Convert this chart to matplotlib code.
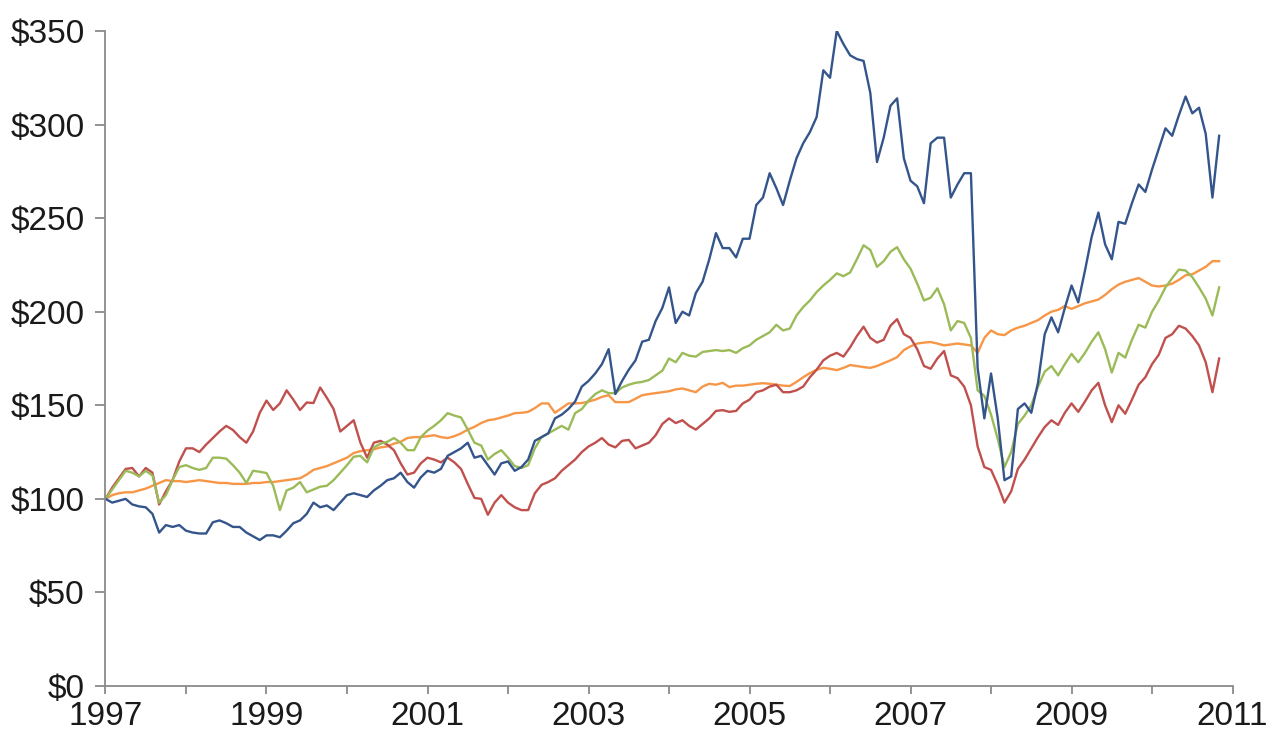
"""
Growth of $100, four series, monthly 1997-2010.
"""
import numpy as np
import matplotlib
matplotlib.use('Agg')
import matplotlib.pyplot as plt

START_YEAR = 1997

# Monthly values (Jan 1997 .. Nov 2010).
blue = [
    100, 98, 99, 100, 97, 96, 95.5, 92, 82, 86, 85, 86,
    83, 82, 81.5, 81.5, 87.5, 88.5, 87, 85, 85, 82, 80, 78,
    80.5, 80.5, 79.5, 83, 87, 88.5, 92, 98, 95.5, 96.5, 94, 98,
    102, 103, 102, 101, 104.5, 107, 110, 111, 114, 109, 106, 111.5,
    115, 114, 116, 123, 125, 127, 130, 122, 123, 118, 113, 119,
    120, 115, 117, 121, 131, 133, 135, 143, 145, 148, 152, 160,
    163, 167, 172, 180, 156, 163, 169, 174, 184, 185, 195, 202,
    213, 194, 200, 198, 210, 216, 228, 242, 234, 234, 229, 239,
    239, 257, 261, 274, 266, 257, 270, 282, 290, 296, 304, 329,
    325, 350, 343, 337, 335, 334, 317, 280, 293, 310, 314, 282,
    270, 267, 258, 290, 293, 293, 261, 268, 274, 274, 170, 143,
    167, 143, 110, 112, 148, 151, 146, 162, 188, 197, 189, 202,
    214, 205, 222, 240, 253, 236, 228, 248, 247, 258, 268, 264,
    276, 287, 298, 294, 305, 315, 306, 309, 295, 261, 294,
]
green = [
    100, 105, 110, 115, 114, 112, 115, 112.5, 98, 102, 110, 117,
    118, 116.5, 115.5, 116.5, 122, 122, 121.5, 118, 114, 108.5, 115, 114.5,
    113.8, 107, 94, 104.5, 106, 109, 103.5, 105, 106.5, 107, 110, 114,
    118, 122.5, 123, 119.5, 127.5, 129.5, 130.5, 132.5, 130, 126, 126, 133,
    136.5, 139, 142, 145.8, 144.5, 143.5, 137, 130, 128.5, 121, 124, 126,
    122, 117.5, 116.5, 118, 127, 133, 135, 137, 139, 137, 145.8, 148,
    152.5, 156, 158, 156.5, 156.5, 159.5, 161, 162, 162.5, 163.5, 166, 168.5,
    175, 173, 178, 176.5, 176, 178.5, 179, 179.5, 179, 179.5, 178, 180.5,
    182, 185, 187, 189, 193, 190, 191, 198, 202.5, 206, 210.5, 214,
    217, 220.5, 219, 221, 228, 235.5, 233, 224, 227, 232, 234.5, 228,
    223, 215, 206, 207.5, 212.5, 204, 190, 195, 194, 186, 158, 155,
    145, 132, 117, 125, 140, 144.5, 150, 160, 168, 171, 166, 172,
    177.5, 173, 178, 184, 189, 180, 167.5, 178, 175.5, 185, 193, 191.5,
    200, 206, 213, 218, 222.5, 222, 218.5, 213, 207, 198, 213,
]
red = [
    100, 106, 111, 116, 116.5, 112, 116.5, 114, 97, 104, 110, 120,
    127, 127, 125, 129, 132.5, 136, 139, 136.8, 133, 130, 136, 146,
    152.5, 147.5, 151, 158, 153, 147.5, 151.5, 151.2, 159.5, 154, 148, 136,
    139, 142, 130, 122, 130, 131, 129, 126, 119, 113, 114, 119,
    122, 121, 119.5, 122, 119.5, 116, 108, 100.5, 100, 91.5, 98, 102,
    98, 95.5, 94, 94, 103, 107.5, 109, 111, 115, 118, 121, 125,
    128, 130, 132.5, 129, 127.5, 131, 131.5, 127, 128.5, 130, 134, 140,
    143, 140.5, 142, 139, 137, 140, 143, 147, 147.4, 146.5, 147, 151,
    153, 157, 158, 160, 161, 157, 157, 158, 160, 165, 169, 174,
    176.5, 178, 176, 181, 187, 192, 186, 183.5, 185, 192.5, 196, 188,
    186, 180, 171, 169.5, 175, 179, 166, 164.5, 160, 150, 128, 117,
    115.5, 107.5, 98, 104, 116, 121, 127, 133, 138.4, 142, 139.5, 146,
    151, 146.5, 152, 158, 162, 150, 141, 150, 145.5, 153, 161, 165,
    172, 177, 186, 188, 192.5, 191, 187, 182, 173, 157, 175,
]
orange = [
    100, 102, 103, 103.5, 103.5, 104.5, 105.5, 107, 108.5, 110, 109.5, 109.5,
    109, 109.5, 110, 109.5, 109, 108.5, 108.5, 108, 108, 108, 108.5, 108.5,
    109, 109, 109.5, 110, 110.5, 111, 113, 115.5, 116.5, 117.5, 119, 120.5,
    122, 124.5, 125.5, 126, 126.5, 127.5, 128, 129.5, 130.5, 132.5, 133, 133,
    133.5, 134, 133, 132.5, 133.5, 135, 137, 138.5, 140.5, 142, 142.5, 143.5,
    144.5, 145.8, 146, 146.5, 148.5, 151, 151, 146, 148.5, 151, 151, 151.2,
    152, 153, 154.5, 155.4, 151.7, 151.7, 151.7, 153.5, 155.4, 156, 156.5, 157,
    157.5, 158.5, 159, 158, 157, 160, 161.5, 161, 162, 159.7, 160.5, 160.5,
    161, 161.5, 161.8, 161.5, 161, 160.5, 160.3, 162.5, 165, 167.2, 169, 170,
    169.5, 168.8, 170, 171.5, 171, 170.4, 170, 171, 172.5, 174, 175.7, 179.5,
    181.5, 183, 183.5, 183.8, 183, 182, 182.5, 183, 182.5, 182, 178, 186,
    190, 188, 187.5, 190, 191.5, 192.5, 194, 195.5, 198, 200, 201, 203,
    201.5, 203, 204.5, 205.5, 206.5, 209, 212, 214.5, 216, 217, 218, 216,
    214, 213.5, 214, 215, 217, 219.5, 220, 222, 224, 227, 227,
]

series = [
    (orange, '#F79646'),
    (red, '#C0504D'),
    (green, '#9BBB59'),
    (blue, '#34558B'),
]

fig = plt.figure(figsize=(12.77, 7.36), dpi=100)
ax = fig.add_axes([0.0826, 0.0679, 0.8826, 0.89])

for values, color in series:
    months = np.arange(len(values))
    ax.plot(START_YEAR + months / 12.0, values, color=color, linewidth=1.7)

ax.set_xlim(1997, 2011)
ax.set_ylim(0, 350)

years = list(range(1997, 2012))
ax.set_xticks(years)
ax.set_xticklabels([str(y) if y % 2 == 1 else '' for y in years])
ax.set_yticks(range(0, 351, 50))
ax.set_yticklabels(['$%d' % v for v in range(0, 351, 50)])

for side in ['top', 'right']:
    ax.spines[side].set_visible(False)
ax.spines['left'].set_color('#8a8a8a')
ax.spines['left'].set_linewidth(1.3)
ax.spines['bottom'].set_color('#8a8a8a')
ax.spines['bottom'].set_linewidth(1.3)
ax.spines['bottom'].set_linestyle((0, (2, 1)))

ax.tick_params(axis='both', colors='#8a8a8a', labelcolor='#1a1a1a',
               labelsize=24, width=1.3, direction='out')
ax.tick_params(axis='y', length=7, pad=8)
ax.tick_params(axis='x', length=6, pad=5)
for label in ax.get_xticklabels() + ax.get_yticklabels():
    label.set_family(['Liberation Sans', 'DejaVu Sans'])

fig.savefig('out.png', dpi=100)
